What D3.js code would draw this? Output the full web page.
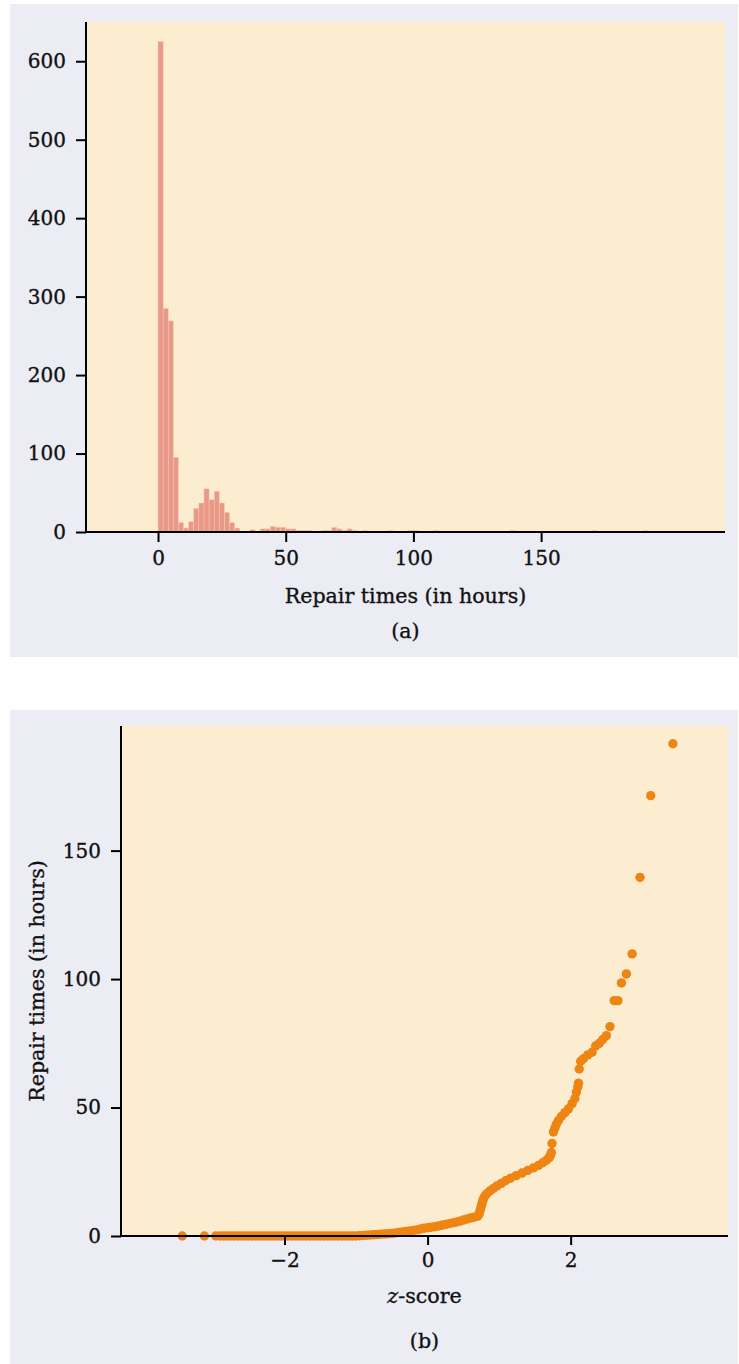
<!DOCTYPE html>
<html><head><meta charset="utf-8">
<script src="https://cdn.jsdelivr.net/npm/d3@7"></script>
<style>body{margin:0;background:#fff}text{font-family:"DejaVu Serif",serif;fill:#111;stroke:#111;stroke-width:0.35px}</style>
</head><body><svg id="c" width="739" height="1364"></svg>
<script>
// ---------- Data: (a) histogram of repair times (2-hour bins, non-empty bins only) ----------
const binStarts = [0,2,4,6,8,10,12,14,16,18,20,22,24,26,28,30,32,34,36,40,42,44,46,48,50,52,54,56,58,64,66,68,70,72,74,76,80,90,98,100,108,138,170,190];
const binCounts = [625,285,269,95,12,5,13,30,37,55,41,52,37,25,12,5,1,1,3,4,4,7,6,6,4,4,2,2,2,2,2,6,4,2,4,2,2,2,2,2,2,2,2,2];
const binWidth = 2;
const histTicksX = [0,50,100,150];
const histTicksY = [0,100,200,300,400,500,600];

// ---------- Data: (b) normal quantile plot (z-score, repair time in hours) ----------
const qqZ = [-3.43,-3.12,-2.96,-2.9,-2.85,-2.8,-2.75,-2.7,-2.65,-2.6,-2.55,-2.5,-2.45,-2.4,-2.35,-2.3,-2.25,-2.2,-2.15,-2.1,-2.05,-2.0,-1.95,-1.9,-1.85,-1.8,-1.75,-1.7,-1.65,-1.6,-1.55,-1.5,-1.45,-1.4,-1.35,-1.3,-1.25,-1.2,-1.15,-1.1,-1.05,-1.0,
  -0.95,-0.9,-0.85,-0.8,-0.75,-0.7,-0.65,-0.6,-0.55,-0.5,-0.45,-0.4,-0.35,-0.3,-0.25,-0.2,-0.15,-0.1,-0.05,0,0.05,0.1,0.15,0.2,0.25,0.3,0.35,0.4,0.45,0.5,0.55,0.6,0.65,0.7,
  0.72,0.73,0.74,0.75,0.76,0.77,0.78,0.8,0.83,0.87,0.92,0.97,1.03,1.09,1.16,1.24,1.32,1.4,1.48,1.55,1.61,1.66,1.7,1.72,1.73,
  1.74,1.76,1.78,1.8,1.83,1.87,1.92,1.97,2.02,2.06,2.08,2.1,2.11,2.12,2.14,2.18,2.24,2.3,2.35,2.4,2.45,2.5,2.55,2.61,2.66,2.71,2.78,2.86,2.97,3.12,3.43];
const qqHours = [0,0,0,0,0,0,0,0,0,0,0,0,0,0,0,0,0,0,0,0,0,0,0,0,0,0,0,0,0,0,0,0,0,0,0,0,0,0,0,0,0,0,
  0.1,0.2,0.3,0.4,0.5,0.6,0.7,0.8,0.9,1.0,1.2,1.4,1.6,1.8,2.0,2.2,2.4,2.7,3.0,3.2,3.4,3.6,3.9,4.2,4.5,4.8,5.1,5.4,5.8,6.2,6.6,7.0,7.3,7.7,
  8.5,9.5,10.5,11.5,12.5,13.5,14.5,15.5,16.5,17.5,18.5,19.5,20.5,21.5,22.5,23.5,24.5,25.5,26.5,27.5,28.5,29.5,30.5,31.5,32.5,
  36,40.5,42,43.5,45,46.5,48,49.5,51.5,53.5,56,58,59.5,65,68,69,70.5,71.5,74,75,76.5,78,81.5,91.6,91.6,98.5,102,109.8,139.6,171.4,191.6];
const qqTicksX = [-2,0,2];
const qqTicksY = [0,50,100,150];

// ---------- Styles ----------
const panelBg = "#ececf5", plotBg = "#fcedd1", barColor = "#ea9888", dotColor = "#ee8512";
const svg = d3.select("#c");

function styleAxis(g){
  g.select(".domain").remove();
  g.selectAll(".tick line").attr("stroke","#000").attr("stroke-width",2);
  g.selectAll(".tick text").attr("font-size",20).attr("font-family","DejaVu Serif").attr("fill","#111");
}

// ================= Panel (a) =================
svg.append("rect").attr("x",10).attr("y",4).attr("width",728).attr("height",653).attr("fill",panelBg);
const A = {l:86, r:725, t:22, b:532};
svg.append("rect").attr("x",A.l).attr("y",A.t).attr("width",A.r-A.l).attr("height",A.b-A.t).attr("fill",plotBg);
const xA = d3.scaleLinear().domain([-28.2,222]).range([A.l,A.r]);
const yA = d3.scaleLinear().domain([0,650]).range([A.b,A.t]);
svg.append("g").selectAll("rect").data(binStarts.map((s,i)=>({s, c:binCounts[i]}))).join("rect")
  .attr("x",d=>xA(d.s)).attr("width",d=>xA(d.s+binWidth)-xA(d.s))
  .attr("y",d=>yA(d.c)).attr("height",d=>yA(0)-yA(d.c))
  .attr("fill",barColor).attr("stroke","#f7c9b8").attr("stroke-width",0.5);
svg.append("g").attr("transform",`translate(0,${A.b})`)
  .call(d3.axisBottom(xA).tickValues(histTicksX).tickFormat(d3.format("d")).tickSize(10).tickPadding(9)).call(styleAxis);
svg.append("g").attr("transform",`translate(${A.l},0)`)
  .call(d3.axisLeft(yA).tickValues(histTicksY).tickFormat(d3.format("d")).tickSize(10).tickPadding(10)).call(styleAxis);
svg.append("line").attr("x1",A.l).attr("x2",A.l).attr("y1",A.t).attr("y2",A.b+1).attr("stroke","#000").attr("stroke-width",2);
svg.append("line").attr("x1",A.l-1).attr("x2",A.r).attr("y1",A.b).attr("y2",A.b).attr("stroke","#000").attr("stroke-width",2);
svg.append("text").attr("x",(A.l+A.r)/2).attr("y",603).attr("text-anchor","middle").attr("font-size",20.6).text("Repair times (in hours)");
svg.append("text").attr("x",(A.l+A.r)/2).attr("y",638).attr("text-anchor","middle").attr("font-size",20.6).text("(a)");

// ================= Panel (b) =================
svg.append("rect").attr("x",10).attr("y",710).attr("width",728).attr("height",654).attr("fill",panelBg);
const B = {l:121, r:728, t:726, b:1236};
svg.append("rect").attr("x",B.l).attr("y",B.t).attr("width",B.r-B.l).attr("height",B.b-B.t).attr("fill",plotBg);
const xB = d3.scaleLinear().domain([-4.3,4.2]).range([B.l-1,B.r]);
const yB = d3.scaleLinear().domain([0,198.5]).range([B.b,B.t]);
svg.append("g").selectAll("circle").data(qqZ.map((z,i)=>({z, h:qqHours[i]}))).join("circle")
  .attr("cx",d=>xB(d.z)).attr("cy",d=>yB(d.h)).attr("r",4.7).attr("fill",dotColor);
svg.append("g").attr("transform",`translate(0,${B.b})`)
  .call(d3.axisBottom(xB).tickValues(qqTicksX).tickFormat(d=>d<0?"\u2212"+Math.abs(d):d).tickSize(9).tickPadding(8)).call(styleAxis);
svg.append("g").attr("transform",`translate(${B.l},0)`)
  .call(d3.axisLeft(yB).tickValues(qqTicksY).tickFormat(d3.format("d")).tickSize(10).tickPadding(10)).call(styleAxis);
svg.append("line").attr("x1",B.l).attr("x2",B.l).attr("y1",B.t).attr("y2",B.b+1).attr("stroke","#000").attr("stroke-width",2);
svg.append("line").attr("x1",B.l-1).attr("x2",B.r).attr("y1",B.b).attr("y2",B.b).attr("stroke","#000").attr("stroke-width",2);
const zt = svg.append("text").attr("x",(B.l+B.r)/2).attr("y",1303).attr("text-anchor","middle").attr("font-size",20.6);
zt.append("tspan").attr("font-style","italic").text("z");
zt.append("tspan").text("-score");
svg.append("text").attr("x",(B.l+B.r)/2).attr("y",1348).attr("text-anchor","middle").attr("font-size",20.6).text("(b)");
svg.append("text").attr("transform",`translate(44,${(B.t+B.b)/2}) rotate(-90)`).attr("text-anchor","middle").attr("font-size",20.6).text("Repair times (in hours)");
</script></body></html>
